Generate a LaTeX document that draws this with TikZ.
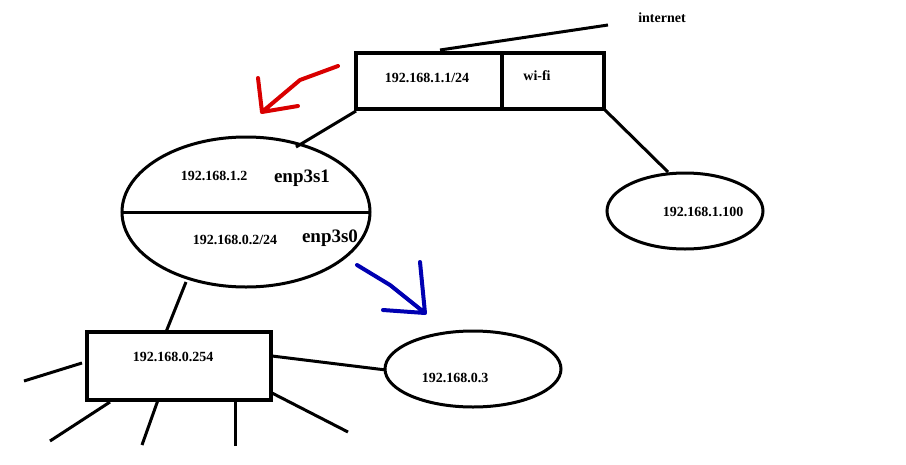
\documentclass[tikz,border=0pt]{standalone}
\usepackage{fontspec}
\setmainfont{Liberation Serif}
\begin{document}
\begin{tikzpicture}[x=1pt,y=-1pt,line width=3pt,
  lbl/.style={font=\bfseries\fontsize{14}{16}\selectfont,inner sep=0},
  big/.style={font=\bfseries\fontsize{19}{21}\selectfont,inner sep=0}]
\useasboundingbox (0,0) rectangle (906,464);
\node[lbl] (inet) at (662,18) {internet};
\coordinate (inetend) at (608,25);
\draw[line width=4pt] (356,53) rectangle (604,109);
\draw[line width=4pt] (502,53) -- (502,109);
\coordinate (rtop) at (440,50);
\draw (rtop) -- (inetend);
\node[lbl] (r1) at (427,78) {192.168.1.1/24};
\node[lbl] (wifi) at (537,76) {wi-fi};
% main ellipse
\draw (246,212) ellipse [x radius=124, y radius=75];
\draw (122,212) -- (370,212);
\draw (356,111) -- (296,147);
\node[lbl] (a1) at (214,176) {192.168.1.2};
\node[big] (e1) at (302,178) {enp3s1};
\node[lbl] (a2) at (235,240) {192.168.0.2/24};
\node[big] (e2) at (330,238) {enp3s0};
% right ellipse
\draw (604,109) -- (668,172);
\draw (685,211) ellipse [x radius=78, y radius=38];
\node[lbl] (h100) at (703,212) {192.168.1.100};
% arrows
\draw[red!85!black,line width=4pt,line cap=round,line join=round]
  (338,66) -- (300,80) -- (262,112) (258,78) -- (262,112) -- (298,106);
\draw[blue!70!black,line width=4pt,line cap=round,line join=round]
  (357,265) -- (390,285) -- (425,313) (420,262) -- (425,313) -- (383,310);
% switch
\draw (186,282) -- (166,332);
\draw[line width=4pt] (87,332) rectangle (271,400);
\node[lbl] (sw) at (173,357) {192.168.0.254};
\draw (272,356) -- (386,370);
\draw (473,369) ellipse [x radius=88, y radius=38];
\node[lbl] (h3) at (455,378) {192.168.0.3};
\draw (24,381) -- (82,363);
\draw (50,441) -- (110,402);
\draw (142,445) -- (158,400);
\draw (235,446) -- (235,402);
\draw (272,393) -- (348,432);
\end{tikzpicture}
\end{document}
